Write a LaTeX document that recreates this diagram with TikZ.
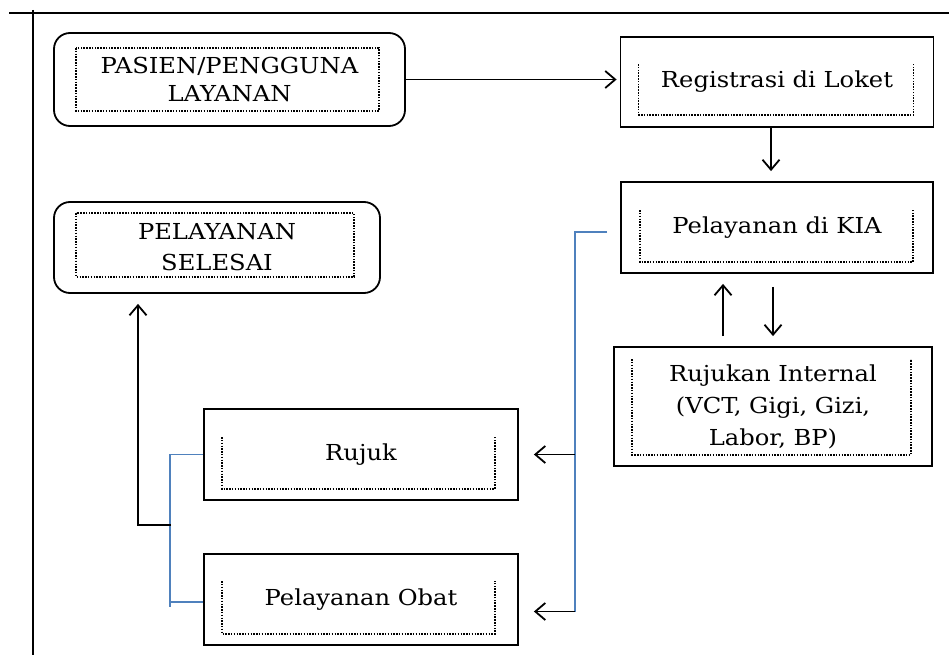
\documentclass[tikz,border=0pt]{standalone}
\usepackage{fontspec}
\setmainfont[FakeStretch=1.1]{DejaVu Serif}
\usetikzlibrary{arrows.meta}
\definecolor{linkblue}{RGB}{79,129,189}

\begin{document}
\begin{tikzpicture}
    [x=1pt, y=1pt,
     box/.style={draw, line width=1.8pt, minimum width=313pt, minimum height=91pt, inner sep=0pt, align=center, font=\fontsize{22}{30}\selectfont},
     roundbox/.style={box, rounded corners=16pt},
     frame/.style={line width=1.6pt, dash pattern=on 1.5pt off 1.3pt},
     arrow/.style={-{Straight Barb[length=10pt, width=17pt]}, line width=1.8pt},
     link/.style={linkblue, line width=1.5pt}]
    \useasboundingbox (0,0) rectangle (949,-655);
    % page borders
    \draw[line width=1.8pt] (9,-13) -- (949,-13);
    \draw[line width=1.8pt] (33,-10) -- (33,-655);
    % boxes
    \node[roundbox, minimum width=351pt, minimum height=93pt, font=\fontsize{22}{28}\selectfont] (pasien) at (229.5,-79.5) {PASIEN/PENGGUNA\\LAYANAN};
    \node[roundbox, minimum width=326pt, font=\fontsize{22}{31}\selectfont] (selesai) at (217,-247.5) {PELAYANAN\\SELESAI};
    \node[box, minimum height=90pt] (reg)     at (777,-82)    {Registrasi di Loket};
    \node[box, minimum width=312pt] (kia)     at (777,-227.5) {Pelayanan di KIA};
    \node[box, minimum width=318pt, minimum height=119pt, font=\fontsize{22}{32}\selectfont] (rujint) at (773,-406.5) {Rujukan Internal\\(VCT, Gigi, Gizi,\\Labor, BP)};
    \node[box, minimum width=314pt] (rujuk)   at (361,-454.5) {Rujuk};
    \node[box, minimum width=314pt] (obat)    at (361,-599.5) {Pelayanan Obat};
    % dotted inner frames
    \draw[frame] ([shift={(23,-16)}]pasien.north west) rectangle ([shift={(-27,16)}]pasien.south east);
    \draw[frame] ([shift={(23,-12)}]selesai.north west) rectangle ([shift={(-27,17)}]selesai.south east);
    \draw[frame] ([shift={(19,-28)}]reg.north west) |- ([shift={(-21,13)}]reg.south east) -- ([shift={(-21,-28)}]reg.north east);
    \draw[frame] ([shift={(20,-29)}]kia.north west) |- ([shift={(-21,12)}]kia.south east) -- ([shift={(-21,-29)}]kia.north east);
    \draw[frame] ([shift={(19,-13)}]rujint.north west) |- ([shift={(-22,12)}]rujint.south east) -- ([shift={(-22,-13)}]rujint.north east);
    \draw[frame] ([shift={(19,-29)}]rujuk.north west) |- ([shift={(-24,12)}]rujuk.south east) -- ([shift={(-24,-29)}]rujuk.north east);
    \draw[frame] ([shift={(19,-28)}]obat.north west) |- ([shift={(-24,12)}]obat.south east) -- ([shift={(-24,-28)}]obat.north east);
    % flow
    \draw[arrow, shorten >=3pt] (pasien.east) -- (pasien.east -| reg.west);
    \draw[arrow, shorten >=10pt] ([xshift=-6]reg.south) -- ([xshift=-6]kia.north);
    \draw[arrow, shorten <=10pt, shorten >=10pt] ([xshift=-50]rujint.north) -- ([xshift=-50]rujint.north |- kia.south);
    \draw[arrow, shorten <=13pt, shorten >=10pt] (kia.south -| rujint.north) -- (rujint.north);
    % blue branches
    \coordinate (b1) at (575,-454.5);
    \coordinate (b2) at (575,-611.5);
    \coordinate (lj) at (171,-525);
    \draw[link] ([xshift=-13, yshift=-4.5]kia.west) -| (b2);
    \draw[arrow, shorten >=15pt] (b1) -- (b1 -| rujuk.east);
    \draw[arrow, shorten >=15pt] (b2) -- (b2 -| obat.east);
    \draw[link] (rujuk.west) -- ++(-33,0) -- ++(0,-152.5);
    \draw[link] ([yshift=-2.5]obat.west) -- ++(-33,0);
    \draw[arrow, shorten >=10pt] (lj) -| ([xshift=-79]selesai.south);
\end{tikzpicture}
\end{document}
